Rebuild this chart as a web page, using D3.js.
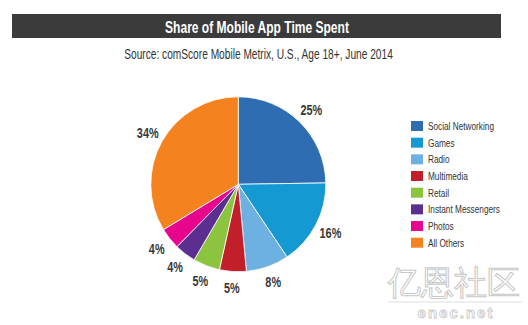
<!DOCTYPE html>
<html><head><meta charset="utf-8">
<script src="https://cdn.jsdelivr.net/npm/d3@7"></script>
<style>
html,body{margin:0;padding:0;background:#fff;}
svg{display:block;}
text{font-family:"Liberation Sans",Arial,sans-serif;}
</style></head>
<body>
<svg id="chart" width="528" height="325"></svg>
<script>
const title = "Share of Mobile App Time Spent";
const subtitle = "Source: comScore Mobile Metrix, U.S., Age 18+, June 2014";
const categories = ["Social Networking","Games","Radio","Multimedia","Retail","Instant Messengers","Photos","All Others"];
const values = [25,16,8,5,5,4,4,34];
const labels = ["25%","16%","8%","5%","5%","4%","4%","34%"];
const colors = ["#2f6db3","#1499d3","#6db1e3","#c1202b","#8cc43f","#5b2e8f","#e6058c","#f4821f"];

const svg = d3.select("#chart");

function place(sel, x, y, sx){
  sel.attr("x",0).attr("y",0).attr("transform",`translate(${x},${y}) scale(${sx},1)`);
}
function factorFor(str, size, weight, target){
  const t = svg.append("text").attr("font-size",size).attr("font-weight",weight).text(str);
  const w = t.node().getComputedTextLength();
  t.remove();
  return target / w;
}

// title bar
svg.append("rect").attr("x",12).attr("y",14).attr("width",489).attr("height",24).attr("fill","#3b3b3b");
const tt = svg.append("text").attr("text-anchor","middle").attr("fill","#fff").attr("font-weight","bold")
  .attr("font-size",17).text(title);
place(tt, 257, 32.5, factorFor(title,17,"bold",184));
const st = svg.append("text").attr("text-anchor","middle").attr("fill","#333").attr("font-size",15).text(subtitle);
place(st, 258.5, 59.3, factorFor(subtitle,15,"normal",269));

// pie
const cx = 238.3, cy = 184.3, R = 87.5;
const pie = d3.pie().sort(null).value(d=>d.v);
const data = pie(values.map((v,i)=>({v, c:categories[i], l:labels[i], col:colors[i]})));
const arc = d3.arc().innerRadius(0).outerRadius(R);
const labelArc = d3.arc().innerRadius(104).outerRadius(104);
const g = svg.append("g").attr("transform",`translate(${cx},${cy})`);
g.selectAll("path").data(data).join("path")
  .attr("d",arc).attr("fill",d=>d.data.col).attr("stroke","#fff").attr("stroke-width",0.8);
const lf = factorFor("25%",14.5,"bold",21.7);
g.selectAll("text").data(data).join("text")
  .attr("text-anchor","middle").attr("dy","0.36em")
  .attr("font-size",14.5).attr("font-weight","bold").attr("fill","#383838")
  .text(d=>d.data.l)
  .each(function(d){ const c = labelArc.centroid(d); place(d3.select(this), c[0], c[1], lf); });

// legend
const ly = d3.scalePoint().domain(categories).range([126,242.7]);
const lg = svg.append("g");
lg.selectAll("rect").data(categories).join("rect")
  .attr("x",411).attr("y",d=>ly(d)-5).attr("width",12).attr("height",10)
  .attr("fill",(d,i)=>colors[i]);
const gf = factorFor("Social Networking",11,"normal",66);
lg.selectAll("text").data(categories).join("text")
  .attr("dy","0.36em").attr("font-size",11).attr("fill","#333").text(d=>d)
  .each(function(d){ place(d3.select(this), 428, ly(d), gf); });

// watermark
svg.append("text").attr("x",454).attr("y",294).attr("text-anchor","middle")
  .attr("font-family","Noto Sans CJK SC").attr("font-size",33)
  .attr("fill","#fff").attr("stroke","#c8c8c8").attr("stroke-width",1).text("亿恩社区");
svg.append("line").attr("x1",388).attr("x2",522).attr("y1",302).attr("y2",302)
  .attr("stroke","#ddd").attr("stroke-width",1);
svg.append("text").attr("x",456).attr("y",318).attr("text-anchor","middle")
  .attr("font-family","DejaVu Sans").attr("font-weight","bold").attr("font-size",15)
  .attr("letter-spacing",2)
  .attr("fill","#fff").attr("stroke","#c8c8c8").attr("stroke-width",0.8).text("enec.net");
</script>
</body></html>
